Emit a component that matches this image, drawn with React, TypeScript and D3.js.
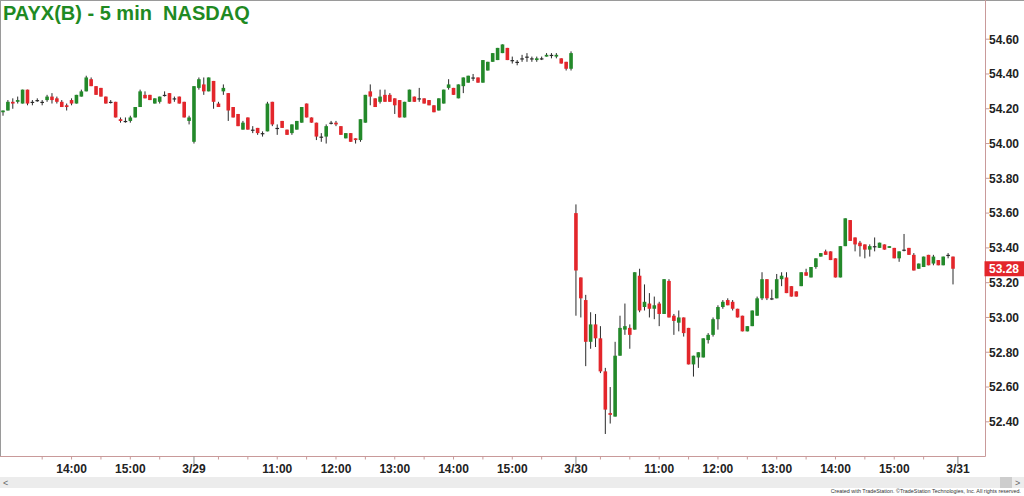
import React from "react";
import * as d3 from "d3";

// ---------- data ----------
const title = "PAYX(B) - 5 min  NASDAQ";
const credit = "Created with TradeStation. \u00A9TradeStation Technologies, Inc. All rights reserved.";
const sessionDates = ["3/28", "3/29", "3/30"];
const nextSessionDate = "3/31";
const firstSessionStart = "12:50"; // first visible bar of 3/28
const sessionOpenBar = "9:35";
const sessionCloseBar = "16:00";
const priceTicks = [52.4, 52.6, 52.8, 53.0, 53.2, 53.4, 53.6, 53.8, 54.0, 54.2, 54.4, 54.6];
const lastPrice = 53.28;

const opens = [
  54.18,54.19,54.24,54.24,54.23,54.31,54.24,54.25,54.24,54.25,
  54.27,54.26,54.24,54.22,54.25,54.23,54.27,54.30,54.37,54.33,
  54.32,54.27,54.24,54.24,54.14,54.13,54.13,54.15,54.21,54.28,
  54.28,54.23,54.24,54.28,54.29,54.26,54.27,54.24,54.13,
  54.01,54.32,54.34,54.30,54.36,54.23,54.30,54.29,54.21,54.17,
  54.08,54.15,54.08,54.09,54.06,54.07,54.24,54.09,54.13,54.08,
  54.06,54.08,54.12,54.23,54.15,54.12,54.04,54.04,54.12,54.12,
  54.10,54.03,54.06,54.03,54.02,54.12,54.30,54.26,54.24,54.28,
  54.28,54.26,54.25,54.15,54.24,54.27,54.26,54.26,54.25,54.22,
  54.19,54.23,54.32,54.32,54.26,54.33,54.35,54.38,54.38,54.35,
  54.42,54.47,54.48,54.52,54.55,54.48,54.47,54.49,54.50,54.49,
  54.48,54.49,54.50,54.51,54.50,54.49,54.47,54.43,
  53.60,53.23,53.10,52.86,52.96,52.88,52.69,52.45,52.43,52.78,
  52.93,52.94,52.93,53.24,53.06,53.08,53.05,53.08,53.02,53.21,
  53.01,52.97,53.00,52.94,52.73,52.77,52.77,52.87,52.90,52.99,
  53.06,53.10,53.09,53.05,53.01,52.92,52.95,53.01,53.11,53.22,
  53.11,53.11,53.22,53.23,53.18,53.15,53.18,53.26,53.23,53.29,
  53.35,53.38,53.38,53.34,53.23,53.41,53.56,53.46,53.43,53.42,
  53.39,53.41,53.40,53.42,53.40,53.40,53.34,53.39,53.40,53.36,
  53.28,53.29,53.36,53.31,53.33,53.30,53.36,53.35,
];
const highs = [
  54.19,54.25,54.26,54.27,54.31,54.31,54.25,54.26,54.25,54.28,
  54.29,54.27,54.25,54.23,54.26,54.28,54.31,54.39,54.38,54.33,
  54.32,54.27,54.25,54.24,54.15,54.15,54.16,54.21,54.31,54.30,
  54.28,54.26,54.27,54.30,54.29,54.27,54.27,54.24,54.16,
  54.33,54.38,54.38,54.38,54.36,54.24,54.34,54.29,54.21,54.17,
  54.13,54.15,54.10,54.09,54.07,54.24,54.24,54.11,54.13,54.08,
  54.11,54.13,54.21,54.23,54.15,54.12,54.06,54.11,54.13,54.13,
  54.10,54.06,54.06,54.03,54.14,54.28,54.34,54.26,54.31,54.31,
  54.29,54.26,54.25,54.24,54.31,54.27,54.32,54.26,54.25,54.22,
  54.26,54.31,54.37,54.32,54.34,54.38,54.39,54.40,54.38,54.48,
  54.47,54.52,54.55,54.57,54.55,54.50,54.48,54.51,54.52,54.50,
  54.50,54.50,54.52,54.52,54.52,54.49,54.47,54.53,
  53.65,53.23,53.13,53.03,53.02,52.95,52.71,52.60,52.86,53.01,
  53.08,52.96,53.26,53.28,53.19,53.14,53.12,53.09,53.22,53.22,
  53.02,53.04,53.00,52.94,52.78,52.80,52.88,52.91,53.00,53.07,
  53.10,53.11,53.10,53.05,53.01,52.95,53.04,53.12,53.26,53.22,
  53.16,53.25,53.26,53.26,53.18,53.15,53.26,53.28,53.29,53.34,
  53.37,53.39,53.38,53.34,53.41,53.57,53.56,53.46,53.44,53.42,
  53.42,53.46,53.43,53.42,53.41,53.40,53.38,53.48,53.40,53.37,
  53.31,53.35,53.36,53.36,53.33,53.35,53.37,53.35,
];
const lows = [
  54.16,54.19,54.20,54.23,54.23,54.22,54.22,54.24,54.22,54.24,
  54.23,54.23,54.21,54.19,54.22,54.23,54.27,54.30,54.33,54.28,
  54.27,54.23,54.23,54.15,54.12,54.12,54.12,54.15,54.21,54.26,
  54.25,54.23,54.23,54.27,54.23,54.24,54.23,54.15,54.11,
  54.00,54.31,54.28,54.30,54.20,54.21,54.28,54.13,54.15,54.10,
  54.08,54.08,54.06,54.05,54.04,54.07,54.10,54.05,54.09,54.05,
  54.05,54.08,54.12,54.15,54.12,54.02,54.01,54.00,54.11,54.10,
  54.05,54.03,54.01,54.00,54.01,54.12,54.22,54.21,54.23,54.24,
  54.24,54.17,54.15,54.15,54.24,54.24,54.24,54.23,54.22,54.18,
  54.19,54.23,54.31,54.28,54.26,54.29,54.35,54.36,54.35,54.35,
  54.42,54.47,54.48,54.52,54.48,54.46,54.45,54.47,54.47,54.47,
  54.47,54.48,54.50,54.49,54.49,54.46,54.42,54.42,
  53.01,53.00,52.72,52.82,52.83,52.68,52.33,52.39,52.43,52.78,
  52.90,52.82,52.93,53.03,53.04,53.00,52.99,52.95,53.02,53.00,
  52.90,52.92,52.89,52.73,52.66,52.71,52.77,52.85,52.89,52.93,
  53.05,53.07,53.04,53.00,52.92,52.92,52.95,53.01,53.10,53.10,
  53.10,53.11,53.18,53.14,53.12,53.12,53.18,53.24,53.23,53.28,
  53.35,53.36,53.33,53.23,53.23,53.41,53.44,53.38,53.35,53.34,
  53.35,53.38,53.40,53.39,53.40,53.34,53.32,53.38,53.36,53.27,
  53.28,53.29,53.30,53.30,53.30,53.30,53.34,53.19,
];
const closes = [
  54.19,54.24,54.23,54.25,54.31,54.23,54.24,54.25,54.24,54.27,
  54.25,54.24,54.21,54.21,54.23,54.28,54.30,54.38,54.33,54.28,
  54.27,54.23,54.24,54.15,54.13,54.13,54.15,54.21,54.30,54.26,
  54.25,54.26,54.27,54.28,54.23,54.26,54.23,54.15,54.15,
  54.33,54.37,54.30,54.38,54.24,54.21,54.32,54.19,54.15,54.10,
  54.12,54.08,54.08,54.06,54.06,54.23,54.11,54.09,54.09,54.05,
  54.11,54.13,54.21,54.15,54.12,54.04,54.04,54.10,54.12,54.11,
  54.05,54.06,54.01,54.02,54.14,54.28,54.27,54.21,54.27,54.24,
  54.24,54.22,54.15,54.24,54.31,54.24,54.26,54.23,54.22,54.18,
  54.26,54.31,54.34,54.28,54.34,54.38,54.39,54.38,54.35,54.48,
  54.47,54.52,54.55,54.57,54.48,54.48,54.47,54.49,54.50,54.49,
  54.49,54.49,54.51,54.51,54.51,54.46,54.43,54.52,
  53.27,53.11,52.86,52.96,52.88,52.69,52.47,52.44,52.78,52.94,
  52.95,52.90,53.26,53.04,53.09,53.05,53.07,53.02,53.22,53.00,
  52.98,53.00,52.91,52.73,52.78,52.80,52.88,52.90,52.99,53.06,
  53.09,53.07,53.05,53.00,52.92,52.95,53.04,53.11,53.22,53.11,
  53.11,53.22,53.24,53.14,53.12,53.12,53.26,53.24,53.29,53.34,
  53.37,53.36,53.33,53.23,53.41,53.57,53.44,53.42,53.41,53.39,
  53.41,53.41,53.43,53.39,53.41,53.34,53.38,53.39,53.36,53.27,
  53.31,53.35,53.30,53.35,53.30,53.35,53.36,53.28,
];

// ---------- layout ----------
const W = 1024;
const H = 496;
const axisX = 985.5;
const axisY = 456.5;
const FONT = "'Liberation Sans', Arial, Helvetica, sans-serif";
const GREEN = "#23892a";
const RED = "#e3262b";
const WICK = "#2a2a2a";
const AXIS = "#c99a9a";

const toMin = (s: string) => {
  const [h, m] = s.split(":").map(Number);
  return h * 60 + m;
};

type Bar = { date: string; min: number; first: boolean };
const bars: Bar[] = [];
sessionDates.forEach((d, s) => {
  const start = s === 0 ? toMin(firstSessionStart) : toMin(sessionOpenBar);
  for (let m = start; m <= toMin(sessionCloseBar); m += 5) {
    bars.push({ date: d, min: m, first: m === toMin(sessionOpenBar) });
  }
});
const allSlots: Bar[] = [...bars, { date: nextSessionDate, min: toMin(sessionOpenBar), first: true }];

const x = d3.scaleLinear().domain([0, allSlots.length - 1]).range([3, 957.9]);
const y = d3.scaleLinear().domain([52.4, 54.6]).range([421.8, 39.2]);

export default function App() {
  const bodyW = 3.6;

  const dateXs = allSlots.map((b, i) => (b.first ? x(i) : null)).filter((v) => v !== null) as number[];
  const nearestDate = (px: number) => d3.min(dateXs, (d) => Math.abs(d - px)) ?? 999;

  const ticks: { x: number; tall: boolean; label: string | null }[] = [];
  allSlots.forEach((b, i) => {
    const px = x(i);
    if (b.first) {
      ticks.push({ x: px, tall: true, label: b.date });
    } else if (b.min % 30 === 0) {
      if (px < 20 || nearestDate(px) < 8) return;
      const isHour = b.min % 60 === 0;
      const label = isHour && nearestDate(px) >= 40 ? `${Math.floor(b.min / 60)}:00` : null;
      ticks.push({ x: px, tall: false, label });
    }
  });

  return (
    <div style={{ position: "absolute", left: 0, top: 0 }}>
      <svg width={W} height={H} viewBox={`0 0 ${W} ${H}`} style={{ display: "block", background: "#fff" }}>
        <rect x={0} y={0} width={W} height={H} fill="#fff" />
        {/* frame */}
        <line x1={0} x2={W} y1={0.5} y2={0.5} stroke="#9a9a9a" />
        <line x1={0.5} x2={0.5} y1={0} y2={axisY} stroke="#9a9a9a" />
        <line x1={axisX} x2={axisX} y1={0} y2={axisY} stroke={AXIS} />
        <line x1={0} x2={axisX} y1={axisY} y2={axisY} stroke={AXIS} />

        {/* title */}
        <text
          x={3}
          y={20}
          fontFamily={FONT}
          fontWeight="bold"
          fontSize={20}
          fill="#1f8a23"
          style={{ whiteSpace: "pre" }}
        >
          {title}
        </text>

        {/* y axis */}
        {priceTicks.map((p) => (
          <g key={p}>
            <line x1={axisX} x2={axisX + 3.5} y1={y(p)} y2={y(p)} stroke={AXIS} />
            <text
              x={989}
              y={y(p)}
              dy="0.36em"
              fontFamily={FONT}
              fontWeight="bold"
              fontSize={12}
              fill="#222"
            >
              {p.toFixed(2)}
            </text>
          </g>
        ))}

        {/* last price marker */}
        <rect x={axisX - 1} y={y(lastPrice) - 7.5} width={W - axisX + 1} height={15} fill={RED} />
        <text
          x={989}
          y={y(lastPrice)}
          dy="0.36em"
          fontFamily={FONT}
          fontWeight="bold"
          fontSize={12}
          fill="#fff"
        >
          {lastPrice.toFixed(2)}
        </text>

        {/* x axis */}
        {ticks.map((t, k) => (
          <g key={k}>
            <line x1={t.x} x2={t.x} y1={axisY} y2={axisY + (t.tall ? 8 : 3)} stroke={t.tall ? "#888" : AXIS} />
            {t.label && (
              <text
                x={t.x}
                y={473}
                textAnchor="middle"
                fontFamily={FONT}
                fontWeight="bold"
                fontSize={12}
                fill="#222"
              >
                {t.label}
              </text>
            )}
          </g>
        ))}

        {/* candles */}
        {opens.map((o, i) => {
          const c = closes[i];
          const cx = x(i);
          const top = y(Math.max(o, c));
          const bot = y(Math.min(o, c));
          const h = Math.max(1.2, bot - top);
          const fill = c > o ? GREEN : c < o ? RED : WICK;
          return (
            <g key={i}>
              <line x1={cx} x2={cx} y1={y(highs[i])} y2={y(lows[i])} stroke={WICK} strokeWidth={1} />
              <rect x={cx - bodyW / 2} y={top} width={bodyW} height={h} fill={fill} />
            </g>
          );
        })}

        {/* scrollbar */}
        <rect x={0} y={477} width={W} height={11} fill="#ececec" />
        <rect x={1000} y={477} width={12} height={11} fill="#cdcdcd" />
        <text x={3} y={486} fontFamily={FONT} fontSize={9} fill="#666">
          {"<"}
        </text>
        <text x={1015} y={486} fontFamily={FONT} fontSize={9} fill="#666">
          {">"}
        </text>

        {/* credit */}
        <text
          x={1021}
          y={493}
          textAnchor="end"
          fontFamily={FONT}
          fontSize={5.4}
          fill="#333"
        >
          {credit}
        </text>
      </svg>
    </div>
  );
}
